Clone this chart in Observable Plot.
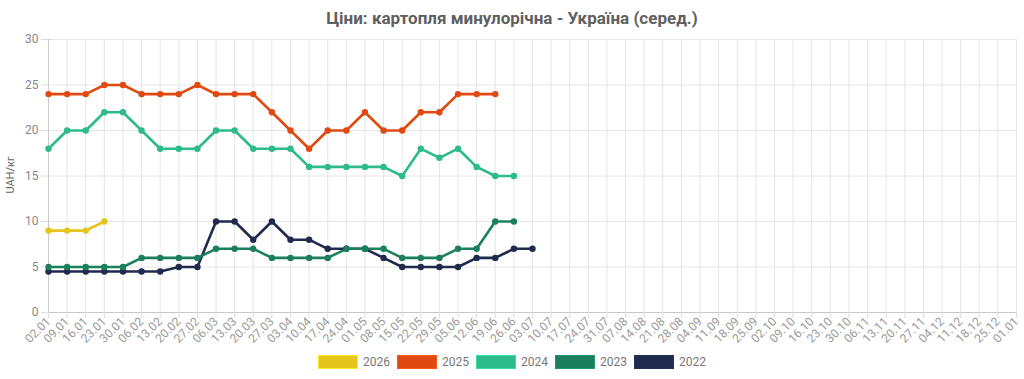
<!DOCTYPE html>
<html><head><meta charset="utf-8">
<script src="https://cdn.jsdelivr.net/npm/d3@7"></script>
<script src="https://cdn.jsdelivr.net/npm/@observablehq/plot@0.6"></script>
<style>
body{margin:0;background:#fff;font-family:Roboto,"Noto Sans",sans-serif;width:1024px;height:379px;overflow:hidden;position:relative}
#title{height:30px;line-height:36px;text-align:center;font-size:17px;font-weight:700;color:#5f5f5f}
#chart svg{display:block}
#ylabel{position:absolute;left:10px;top:175px;transform:translate(-50%,-50%) rotate(-90deg);font-size:11px;color:#666;white-space:nowrap}
#legend{display:flex;justify-content:center;align-items:center;margin-top:3px;height:14px;font-size:12px;color:#777}
.item{display:flex;align-items:center;margin:0 3.5px}
.sw{width:38px;height:12px;border:1px solid;margin-right:5px}
</style></head><body>
<div id="title">Ціни: картопля минулорічна - Україна (серед.)</div>
<div id="chart"></div>
<div id="ylabel">UAH/кг</div>
<div id="legend"></div>
<script>
const weeks = ["02.01","09.01","16.01","23.01","30.01","06.02","13.02","20.02","27.02","06.03","13.03","20.03","27.03","03.04","10.04","17.04","24.04","01.05","08.05","15.05","22.05","29.05","05.06","12.06","19.06","26.06","03.07","10.07","17.07","24.07","31.07","07.08","14.08","21.08","28.08","04.09","11.09","18.09","25.09","02.10","09.10","16.10","23.10","30.10","06.11","13.11","20.11","27.11","04.12","11.12","18.12","25.12","01.01"];
const years = ["2026","2025","2024","2023","2022"];
const colors = ["#e5c51b","#e04a12","#2dbb8b","#1b7f5e","#1f2a4e"];
const yTicks = [0,5,10,15,20,25,30];
const v2026 = [9,9,9,10];
const v2025 = [24,24,24,25,25,24,24,24,25,24,24,24,22,20,18,20,20,22,20,20,22,22,24,24,24];
const v2024 = [18,20,20,22,22,20,18,18,18,20,20,18,18,18,16,16,16,16,16,15,18,17,18,16,15,15];
const v2023 = [5,5,5,5,5,6,6,6,6,7,7,7,6,6,6,6,7,7,7,6,6,6,7,7,10,10];
const v2022 = [4.5,4.5,4.5,4.5,4.5,4.5,4.5,5,5,10,10,8,10,8,8,7,7,7,6,5,5,5,5,6,6,7,7];

const series = {"2026": v2026, "2025": v2025, "2024": v2024, "2023": v2023, "2022": v2022};
const rows = [];
for (const y of ["2022","2023","2024","2025","2026"]) {
  series[y].forEach((v, i) => rows.push({year: y, week: weeks[i], value: v}));
}

const chart = Plot.plot({
  width: 1024, height: 322,
  marginLeft: 48, marginRight: 8, marginTop: 9, marginBottom: 40,
  style: {fontFamily: "Roboto, sans-serif", fontSize: "12px", color: "#888", background: "#fff"},
  x: {type: "point", domain: weeks, padding: 0},
  y: {domain: [0, 30]},
  color: {domain: years, range: colors},
  marks: [
    Plot.gridX({stroke: "#e6e6e6", strokeOpacity: 1}),
    Plot.gridY({ticks: yTicks, stroke: "#e6e6e6", strokeOpacity: 1}),
    Plot.ruleX([weeks[0]], {stroke: "#cccccc"}),
    Plot.ruleY([0], {stroke: "#c8c8c8"}),
    Plot.axisX({tickRotate: -45, tickSize: 6, tickPadding: 1, stroke: "#dddddd", fill: "#999", fontSize: 12, label: null}),
    Plot.axisY({ticks: yTicks, tickSize: 7, tickPadding: 3, stroke: "#dddddd", fill: "#888", fontSize: 12, label: null}),
    Plot.line(rows, {x: "week", y: "value", z: "year", stroke: "year", strokeWidth: 2.6}),
    Plot.dot(rows, {x: "week", y: "value", fill: "year", r: 3.2})
  ]
});
document.getElementById("chart").append(chart);

const legend = document.getElementById("legend");
years.forEach((y, i) => {
  const it = document.createElement("div"); it.className = "item";
  const sw = document.createElement("div"); sw.className = "sw";
  sw.style.background = colors[i]; sw.style.borderColor = d3.color(colors[i]).brighter(0.5);
  const t = document.createElement("span"); t.textContent = y;
  it.append(sw, t); legend.append(it);
});
</script>
</body></html>
